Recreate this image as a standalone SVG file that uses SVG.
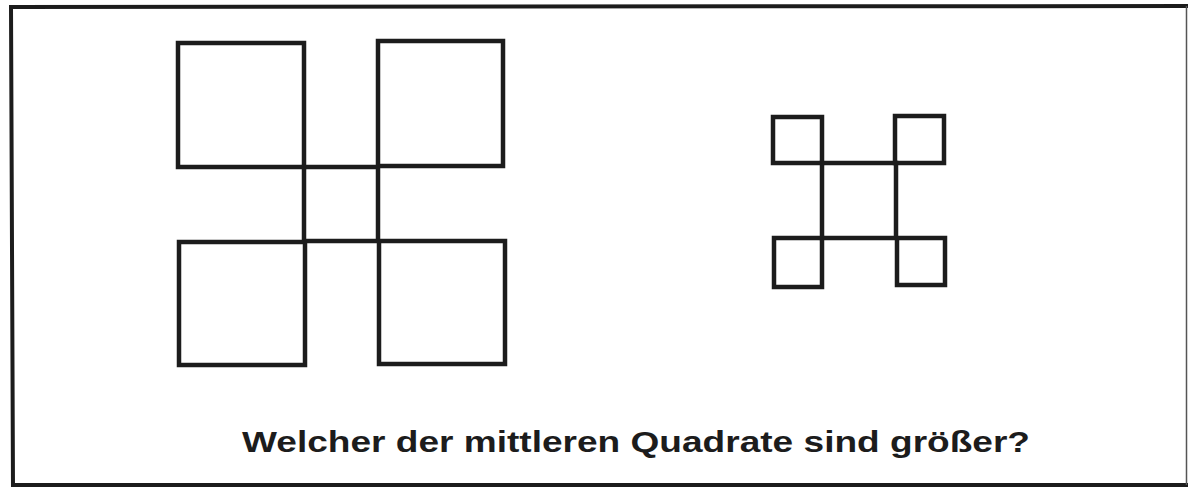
<svg xmlns="http://www.w3.org/2000/svg" width="1188" height="487" viewBox="0 0 1188 487">
<style>
.sq{fill:none;stroke:#1c1c1c;stroke-width:4.5}
.fr{stroke:#1c1c1c;stroke-width:4;fill:none}
.t{font-family:"Liberation Sans",Arial,sans-serif;font-weight:bold;font-size:29px;fill:#1c1c1c}
</style>
<rect width="1188" height="487" fill="#ffffff"/>
<g id="frame">
<path class="fr" d="M10,7 L1188,6 M11,5 L13,487 M11,485 L1188,485"/>
<path d="M1186.5,6 L1186.5,485" stroke="#555" stroke-width="1.5"/>
</g>
<g id="big-figure">
<rect class="sq" x="178" y="43" width="126" height="124"/>
<rect class="sq" x="378" y="41" width="125" height="125"/>
<rect class="sq" x="179" y="242" width="126" height="123"/>
<rect class="sq" x="379" y="241" width="126" height="123"/>
<rect class="sq" x="304" y="167" width="74" height="74"/>
</g>
<g id="small-figure">
<rect class="sq" x="773" y="117" width="49" height="46"/>
<rect class="sq" x="895" y="116" width="49" height="47"/>
<rect class="sq" x="774" y="238" width="48" height="49"/>
<rect class="sq" x="897" y="238" width="48" height="47"/>
<rect class="sq" x="822" y="163" width="74" height="75"/>
</g>
<g id="caption">
<text class="t" x="242" y="452" textLength="788" lengthAdjust="spacingAndGlyphs">Welcher der mittleren Quadrate sind größer?</text>
</g>
</svg>
